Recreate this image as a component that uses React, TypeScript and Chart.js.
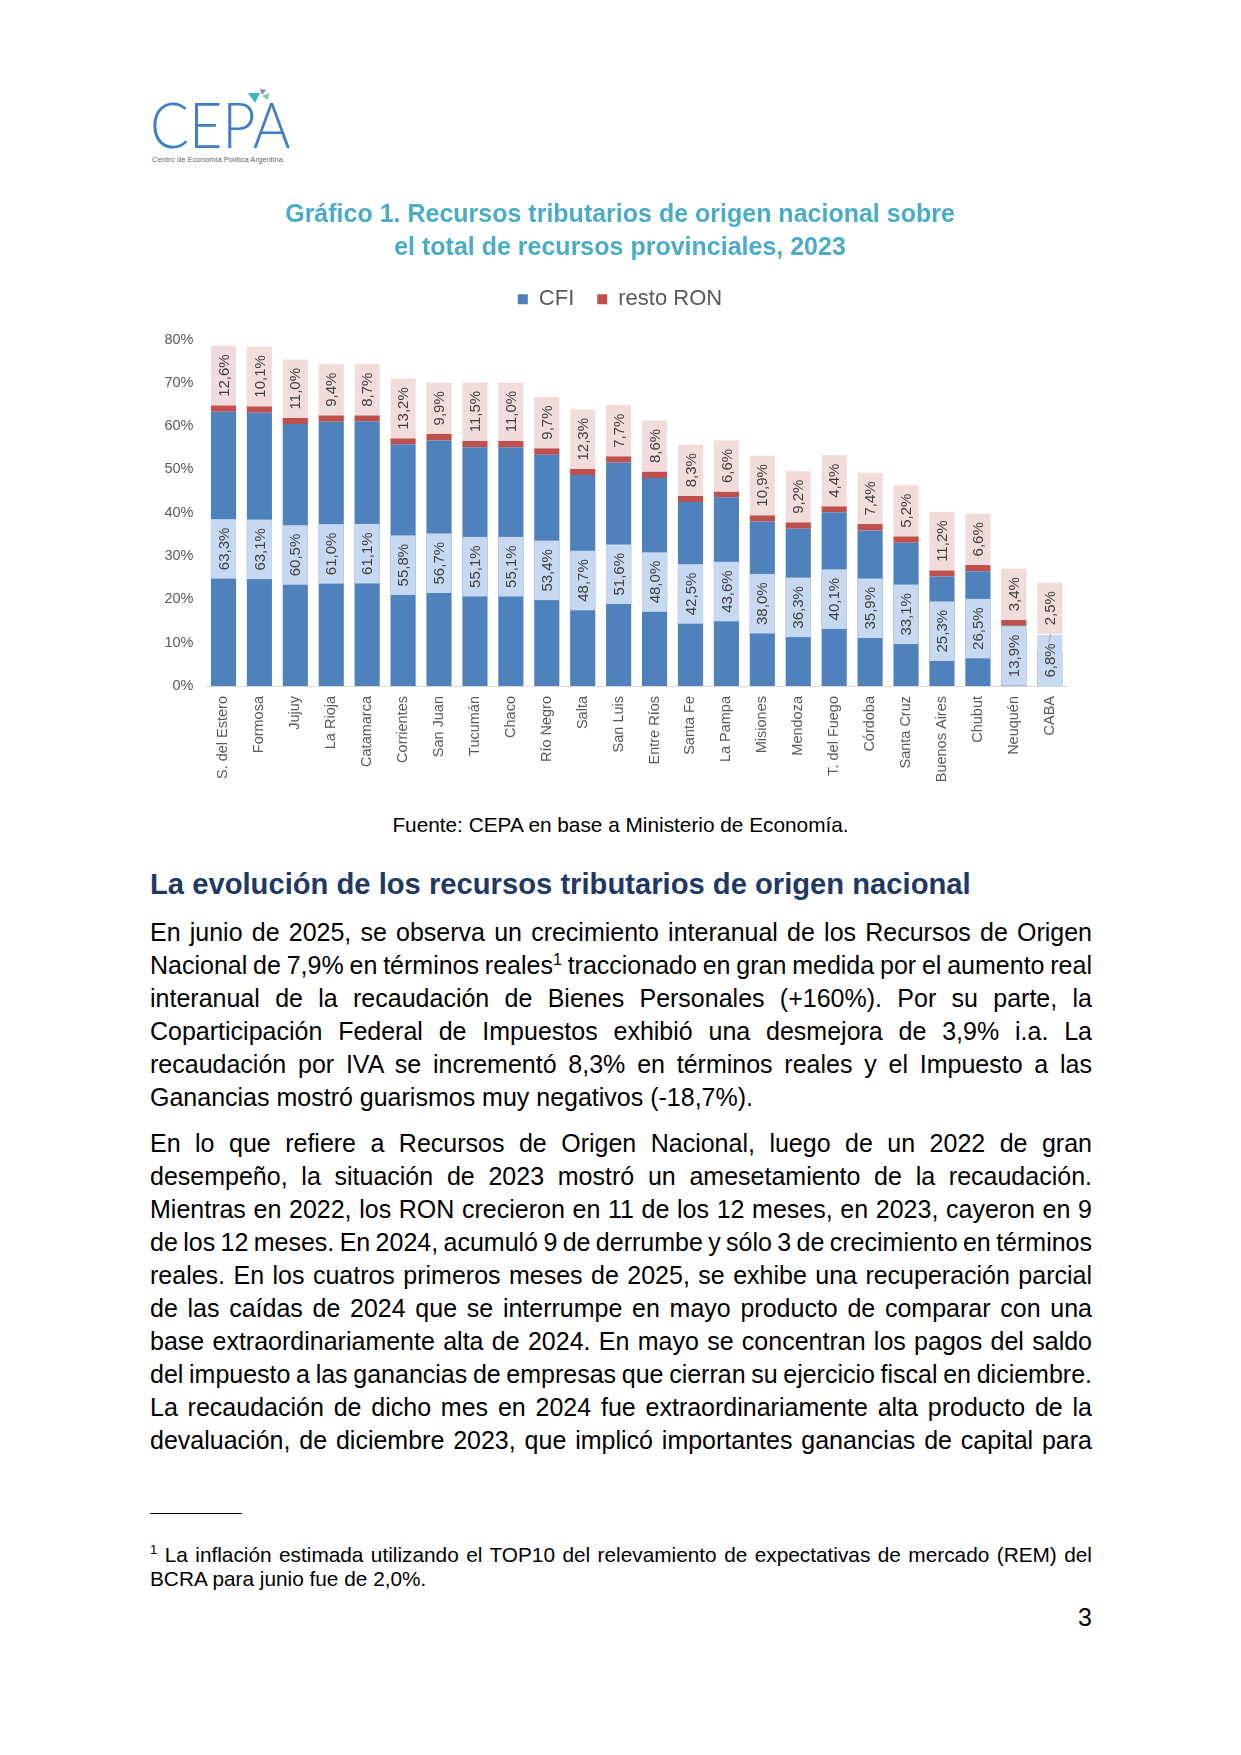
import React, { useEffect, useRef } from 'react';
import { Chart, registerables } from 'chart.js';

Chart.register(...registerables);

// ---------- Data ----------
const provincias = [
  'S. del Estero', 'Formosa', 'Jujuy', 'La Rioja', 'Catamarca', 'Corrientes', 'San Juan', 'Tucumán',
  'Chaco', 'Río Negro', 'Salta', 'San Luis', 'Entre Ríos', 'Santa Fe', 'La Pampa', 'Misiones',
  'Mendoza', 'T. del Fuego', 'Córdoba', 'Santa Cruz', 'Buenos Aires', 'Chubut', 'Neuquén', 'CABA',
];
const cfi = [
  63.3, 63.1, 60.5, 61.0, 61.1, 55.8, 56.7, 55.1, 55.1, 53.4, 48.7, 51.6,
  48.0, 42.5, 43.6, 38.0, 36.3, 40.1, 35.9, 33.1, 25.3, 26.5, 13.9, 6.8,
];
// height of the red "resto RON" segment as drawn
const restoRon = [
  1.5, 1.5, 1.4, 1.5, 1.4, 1.4, 1.5, 1.5, 1.5, 1.5, 1.4, 1.45,
  1.5, 1.4, 1.3, 1.45, 1.5, 1.4, 1.5, 1.45, 1.4, 1.45, 1.4, 1.0,
];
// values shown in the pink labels above each bar
const restoEtiquetas = [
  12.6, 10.1, 11.0, 9.4, 8.7, 13.2, 9.9, 11.5, 11.0, 9.7, 12.3, 7.7,
  8.6, 8.3, 6.6, 10.9, 9.2, 4.4, 7.4, 5.2, 11.2, 6.6, 3.4, 2.5,
];
const yMin = 0;
const yMax = 80;
const yStep = 10;

const tituloLineas = [
  'Gráfico 1. Recursos tributarios de origen nacional sobre',
  'el total de recursos provinciales, 2023',
];

const parrafo1 = [
  'En junio de 2025, se observa un crecimiento interanual de los Recursos de Origen',
  'Nacional de 7,9% en términos reales¹ traccionado en gran medida por el aumento real',
  'interanual de la recaudación de Bienes Personales (+160%). Por su parte, la',
  'Coparticipación Federal de Impuestos exhibió una desmejora de 3,9% i.a. La',
  'recaudación por IVA se incrementó 8,3% en términos reales y el Impuesto a las',
  'Ganancias mostró guarismos muy negativos (-18,7%).',
];
const parrafo2 = [
  'En lo que refiere a Recursos de Origen Nacional, luego de un 2022 de gran',
  'desempeño, la situación de 2023 mostró un amesetamiento de la recaudación.',
  'Mientras en 2022, los RON crecieron en 11 de los 12 meses, en 2023, cayeron en 9',
  'de los 12 meses. En 2024, acumuló 9 de derrumbe y sólo 3 de crecimiento en términos',
  'reales. En los cuatros primeros meses de 2025, se exhibe una recuperación parcial',
  'de las caídas de 2024 que se interrumpe en mayo producto de comparar con una',
  'base extraordinariamente alta de 2024. En mayo se concentran los pagos del saldo',
  'del impuesto a las ganancias de empresas que cierran su ejercicio fiscal en diciembre.',
  'La recaudación de dicho mes en 2024 fue extraordinariamente alta producto de la',
  'devaluación, de diciembre 2023, que implicó importantes ganancias de capital para',
];
const notaLineas = [
  '¹ La inflación estimada utilizando el TOP10 del relevamiento de expectativas de mercado (REM) del',
  'BCRA para junio fue de 2,0%.',
];

// ---------- Styles ----------
const FONT = '"Liberation Sans", Arial, Helvetica, sans-serif';
const BLUE = '#4f81bd';
const RED = '#c0504d';
const LIGHT_BLUE = '#c6d9f1';
const PINK = '#f2dcdb';
const AXIS_TEXT = '#595959';
const LABEL_TEXT = '#404040';

const fmt = (v: number) => v.toFixed(1).replace('.', ',') + '%';

const boxLabels = {
  id: 'boxLabels',
  afterDatasetsDraw(chart: any) {
    const ctx = chart.ctx as CanvasRenderingContext2D;
    const m0 = chart.getDatasetMeta(0);
    const m1 = chart.getDatasetMeta(1);
    const pad = 8.5;
    ctx.save();
    ctx.font = `15px ${FONT}`;
    ctx.textAlign = 'center';
    ctx.textBaseline = 'middle';
    const drawRot = (t: string, x: number, y: number) => {
      ctx.save();
      ctx.translate(x, y);
      ctx.rotate(-Math.PI / 2);
      ctx.fillStyle = LABEL_TEXT;
      ctx.fillText(t, 0, 1);
      ctx.restore();
    };
    const tops: number[] = [];
    m0.data.forEach((bar: any, i: number) => {
      const p = bar.getProps(['x', 'y', 'base', 'width'], true);
      const t = fmt(cfi[i]);
      const h = ctx.measureText(t).width + 2 * pad;
      let bottom = (p.y + p.base) / 2 + h / 2;
      if (bottom > p.base) bottom = p.base;
      const top = bottom - h;
      tops[i] = top;
      ctx.fillStyle = LIGHT_BLUE;
      ctx.fillRect(p.x - p.width / 2, top, p.width, h);
      drawRot(t, p.x, top + h / 2);
    });
    m1.data.forEach((bar: any, i: number) => {
      const p = bar.getProps(['x', 'y', 'base', 'width'], true);
      const t = fmt(restoEtiquetas[i]);
      const h = ctx.measureText(t).width + 2 * pad;
      let bottom = p.y;
      let shifted = false;
      if (bottom > tops[i] - 1) {
        bottom = tops[i] - 1;
        shifted = true;
      }
      const top = bottom - h;
      ctx.fillStyle = PINK;
      ctx.fillRect(p.x - p.width / 2, top, p.width, h);
      drawRot(t, p.x, top + h / 2);
      if (shifted) {
        ctx.strokeStyle = '#a6a6a6';
        ctx.lineWidth = 1;
        ctx.beginPath();
        ctx.moveTo(p.x + 1, bottom);
        ctx.lineTo(p.x - 1, bottom + 9);
        ctx.stroke();
      }
    });
    ctx.restore();
  },
};

const legendSpacer = {
  id: 'legendSpacer',
  beforeLayout(chart: any) {
    const lg = chart.legend;
    if (lg && !lg.__spaced) {
      const orig = lg.fit;
      lg.fit = function () {
        orig.call(this);
        this.height += 19.3;
      };
      lg.__spaced = true;
    }
  },
};

function BarChart() {
  const ref = useRef<HTMLCanvasElement | null>(null);
  useEffect(() => {
    if (!ref.current) return;
    const chart = new Chart(ref.current, {
      type: 'bar',
      data: {
        labels: provincias,
        datasets: [
          { label: 'CFI', data: cfi, backgroundColor: BLUE, barPercentage: 0.7, categoryPercentage: 1 },
          { label: 'resto RON', data: restoRon, backgroundColor: RED, barPercentage: 0.7, categoryPercentage: 1 },
        ],
      },
      options: {
        animation: false,
        responsive: true,
        maintainAspectRatio: false,
        layout: { padding: 0 },
        plugins: {
          title: {
            display: true,
            text: tituloLineas,
            color: '#4bacc6',
            font: { family: FONT, size: 25, weight: 'bold', lineHeight: 1.32 },
            padding: { top: 8.7, bottom: 0.5 },
          },
          legend: {
            display: true,
            position: 'top',
            labels: {
              boxWidth: 10,
              boxHeight: 10,
              padding: 23,
              color: AXIS_TEXT,
              font: { family: FONT, size: 22 },
            },
          },
          tooltip: { enabled: false },
        },
        scales: {
          x: {
            stacked: true,
            grid: { display: false, drawTicks: false },
            border: { display: true, color: '#d9d9d9', width: 1 },
            ticks: {
              autoSkip: false,
              maxRotation: 90,
              minRotation: 90,
              padding: 10,
              color: AXIS_TEXT,
              font: { family: FONT, size: 14.5 },
            },
            afterFit: (s: any) => { s.height = 104; },
          },
          y: {
            stacked: true,
            min: yMin,
            max: yMax,
            grid: { display: false, drawTicks: false },
            border: { display: false },
            ticks: {
              stepSize: yStep,
              padding: 12,
              color: AXIS_TEXT,
              font: { family: FONT, size: 14.5 },
              callback: (v: any) => v + '%',
            },
            afterFit: (s: any) => { s.width = 65.5; },
          },
          yPad: {
            position: 'right',
            min: yMin,
            max: yMax,
            grid: { display: false, drawTicks: false },
            border: { display: false },
            ticks: { display: false },
            afterFit: (s: any) => { s.width = 32.3; },
          },
        },
      },
      plugins: [boxLabels, legendSpacer],
    });
    return () => chart.destroy();
  }, []);
  return <canvas ref={ref} />;
}

const renderSup = (s: string, size: number) => {
  const parts = s.split('¹');
  const out: React.ReactNode[] = [];
  parts.forEach((p, i) => {
    if (i > 0) out.push(<sup key={'s' + i} style={{ fontSize: size, lineHeight: 0, verticalAlign: 'super', wordSpacing: 0 }}>1</sup>);
    out.push(<React.Fragment key={'t' + i}>{p}</React.Fragment>);
  });
  return out;
};

function Lines({ lines, top, lineH, size, lastLeft, supSize }: { lines: string[]; top: number; lineH: number; size: number; lastLeft: boolean; supSize: number }) {
  return (
    <div style={{ position: 'absolute', left: 150, top, width: 942, fontSize: size, lineHeight: lineH + 'px', color: '#000' }}>
      {lines.map((l, i) => {
        const just = !(lastLeft && i === lines.length - 1);
        return (
          <div
            key={i}
            style={{
              textAlign: just ? 'justify' : 'left',
              textAlignLast: just ? 'justify' : 'left',
              wordSpacing: just ? '-4px' : '0px',
              whiteSpace: 'nowrap',
            } as any}
          >
            {renderSup(l, supSize)}
          </div>
        );
      })}
    </div>
  );
}

export default function App() {
  return (
    <div style={{ position: 'absolute', left: 0, top: 0, width: 1241, height: 1755, background: '#fff', fontFamily: FONT, overflow: 'hidden' }}>
      {/* Logo */}
      <div style={{ position: 'absolute', left: 150, top: 92, fontFamily: 'Lato, "Open Sans", sans-serif', fontWeight: 300, fontSize: 64, lineHeight: 1, color: '#3f7fc6', transform: 'scaleX(0.9)', transformOrigin: 'left top', whiteSpace: 'nowrap' }}>
        CEPA
      </div>
      <svg style={{ position: 'absolute', left: 248, top: 89 }} width={26} height={16} viewBox="0 0 26 16">
        <polygon points="0,4 12,4 7,14" fill="#3fb3c9" />
        <polygon points="12,0 18,1 14,6" fill="#8a7cc0" />
        <polygon points="14,7 21,4 20,11" fill="#7fc8a9" />
      </svg>
      <div style={{ position: 'absolute', left: 152, top: 155, fontSize: 7.6, color: '#666', whiteSpace: 'nowrap' }}>
        Centro de Economía Política Argentina
      </div>

      {/* Chart */}
      <div style={{ position: 'absolute', left: 140, top: 190, width: 960, height: 600 }}>
        <BarChart />
      </div>

      {/* Source */}
      <div style={{ position: 'absolute', left: 0, width: 1241, top: 815, textAlign: 'center', fontSize: 20.8, lineHeight: '20.8px', color: '#000' }}>
        Fuente: CEPA en base a Ministerio de Economía.
      </div>

      {/* Heading */}
      <div style={{ position: 'absolute', left: 150, top: 867, fontSize: 29.2, fontWeight: 'bold', lineHeight: '34.8px', color: '#1f3864', whiteSpace: 'nowrap' }}>
        La evolución de los recursos tributarios de origen nacional
      </div>

      <Lines lines={parrafo1} top={916} lineH={32.9} size={25} lastLeft={true} supSize={16} />
      <Lines lines={parrafo2} top={1127.4} lineH={32.9} size={25} lastLeft={false} supSize={16} />

      {/* Footnote separator */}
      <div style={{ position: 'absolute', left: 150, top: 1513, width: 92, height: 1, background: '#000' }} />
      <Lines lines={notaLineas} top={1543} lineH={24} size={20.8} lastLeft={true} supSize={13} />

      {/* Page number */}
      <div style={{ position: 'absolute', right: 1241 - 1092, top: 1605, fontSize: 25, lineHeight: '25px', color: '#000' }}>3</div>
    </div>
  );
}
